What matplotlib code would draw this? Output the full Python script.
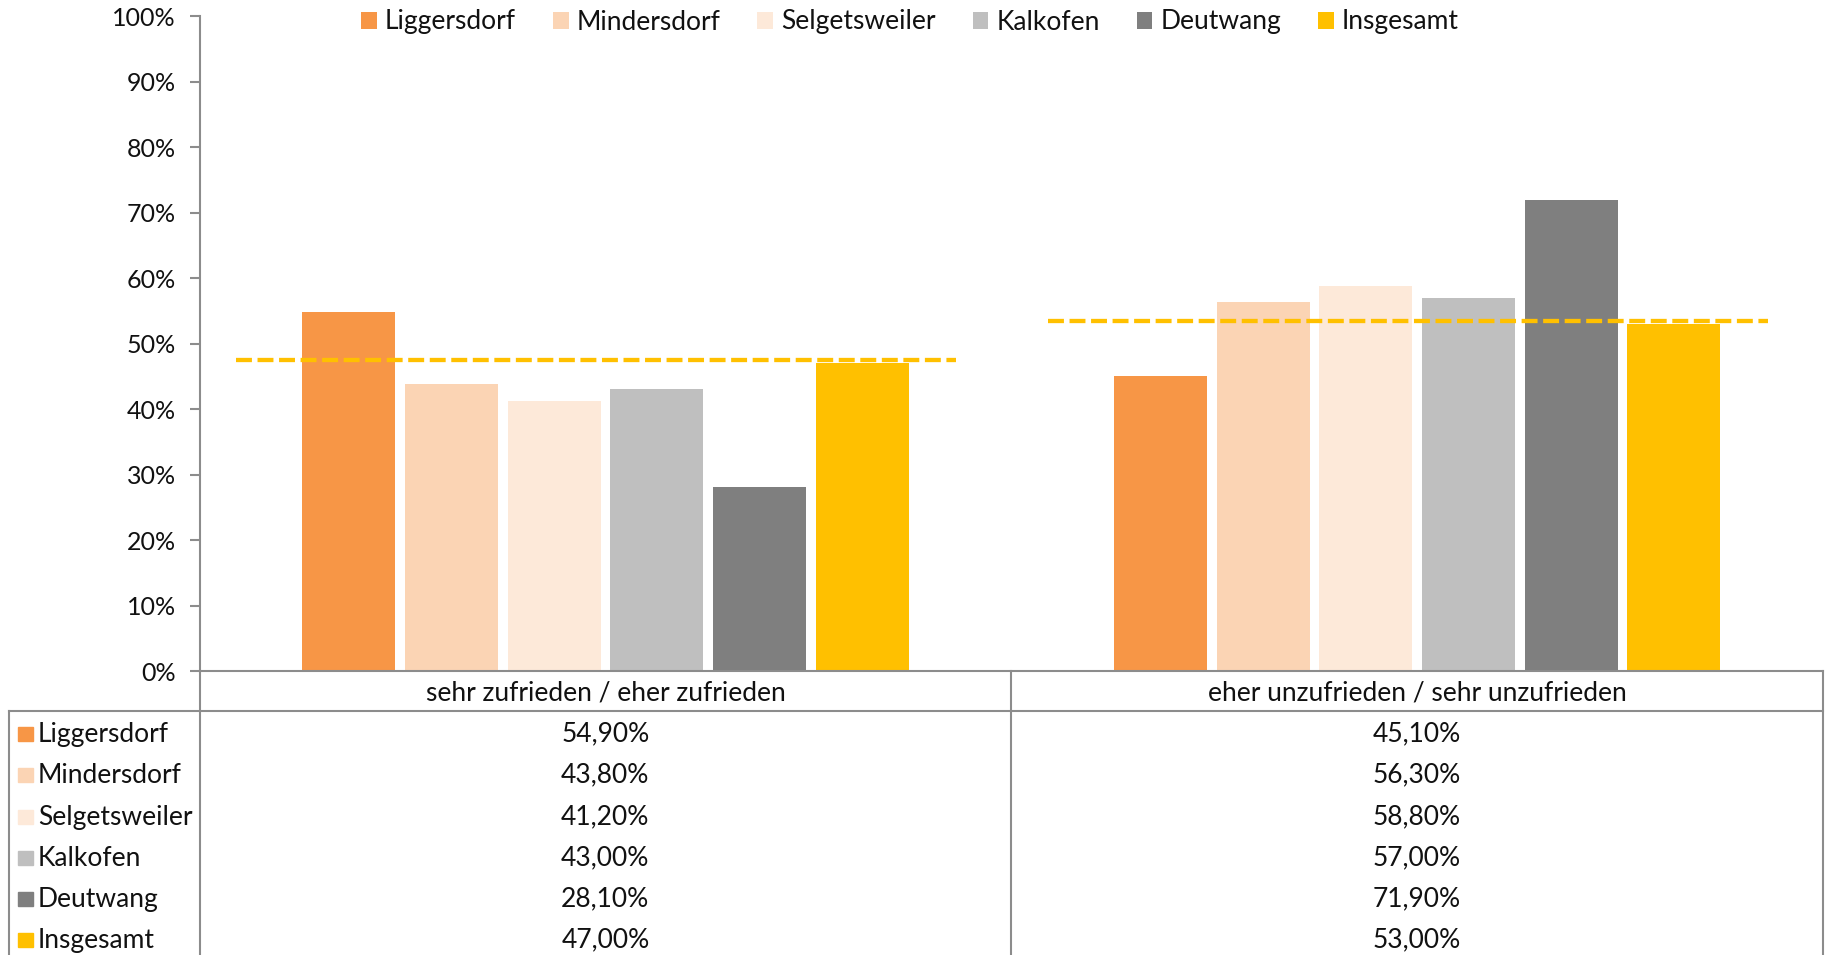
import matplotlib.pyplot as plt
from matplotlib.patches import Patch, Rectangle
from matplotlib.lines import Line2D
import matplotlib.transforms as mtransforms
import numpy as np

plt.rcParams['font.family'] = ['Lato', 'DejaVu Sans']

categories = ["sehr zufrieden / eher zufrieden", "eher unzufrieden / sehr unzufrieden"]
places = ["Liggersdorf", "Mindersdorf", "Selgetsweiler", "Kalkofen", "Deutwang", "Insgesamt"]
values = {
    "Liggersdorf":   [54.9, 45.1],
    "Mindersdorf":   [43.8, 56.3],
    "Selgetsweiler": [41.2, 58.8],
    "Kalkofen":      [43.0, 57.0],
    "Deutwang":      [28.1, 71.9],
    "Insgesamt":     [47.0, 53.0],
}
avg_line = [47.5, 53.5]
colors = ["#F79646", "#FBD4B4", "#FDE9D9", "#BFBFBF", "#7F7F7F", "#FFC000"]

W, H = 1829, 955
fig = plt.figure(figsize=(W / 100, H / 100), dpi=100)

def fx(x):
    return x / W

def fy(y):
    return 1 - y / H

ax = fig.add_axes([fx(199.5), fy(671), fx(1823) - fx(199.5), fy(16.3) - fy(671)])

grid_col = "#8C8C8C"
txt_col = "#111111"
fs = 19

step = 0.1265
width = 0.1146
xc = np.arange(len(categories))
for i, p in enumerate(places):
    ax.bar(xc + (i - 2.5) * step, values[p], width=width, color=colors[i], zorder=2)

for i, v in enumerate(avg_line):
    ax.plot([xc[i] - 0.455, xc[i] + 0.432], [v, v], color="#FFC000", lw=3.1,
            dashes=(3.7, 1.3), zorder=3)

ax.set_xlim(-0.5, 1.5)
ax.set_ylim(0, 100)
ax.set_yticks(np.arange(0, 101, 10))
ax.set_yticklabels([f"{t}%" for t in range(0, 101, 10)], fontsize=18, color=txt_col)
ax.set_xticks([])
ax.tick_params(axis='y', length=7, width=1.5, color=grid_col, pad=10)
for s in ["top", "right"]:
    ax.spines[s].set_visible(False)
for s in ["left", "bottom"]:
    ax.spines[s].set_color(grid_col)
    ax.spines[s].set_linewidth(1.5)

# table below the axis
lw = 1.5
def hline(y, x0, x1):
    fig.add_artist(Line2D([fx(x0), fx(x1)], [fy(y), fy(y)], color=grid_col, lw=lw))

def vline(x, y0, y1):
    fig.add_artist(Line2D([fx(x), fx(x)], [fy(y0), fy(y1)], color=grid_col, lw=lw))

hline(711, 9, 1823)
vline(199.5, 671, H + 5)
vline(1011, 671, H + 5)
vline(1823, 671, H + 5)
vline(9, 711, H + 5)

trans = mtransforms.blended_transform_factory(ax.transData, fig.transFigure)
for j, c in enumerate(categories):
    fig.text(xc[j], fy(693), c, transform=trans, ha='center', va='center',
             fontsize=fs, color=txt_col)

row_y = [734, 775, 817, 858, 899, 940]
for i, p in enumerate(places):
    y = row_y[i]
    fig.add_artist(Rectangle((fx(18), fy(y + 7)), fx(14.5), 14.5 / H,
                             color=colors[i], transform=fig.transFigure))
    fig.text(fx(38), fy(y), p, ha='left', va='center', fontsize=fs, color=txt_col)
    for j in range(len(categories)):
        s = f"{values[p][j]:.2f}%".replace(".", ",")
        fig.text(xc[j], fy(y), s, transform=trans, ha='center', va='center',
                 fontsize=fs, color=txt_col)

handles = [Patch(facecolor=colors[i], label=p) for i, p in enumerate(places)]
fig.legend(handles=handles, loc='center', bbox_to_anchor=(fx(910), fy(22)), ncol=6,
           frameon=False, fontsize=fs, handlelength=0.6, handleheight=0.6,
           handletextpad=0.3, columnspacing=1.4, labelcolor=txt_col)

fig.savefig("out.png", dpi=100)
